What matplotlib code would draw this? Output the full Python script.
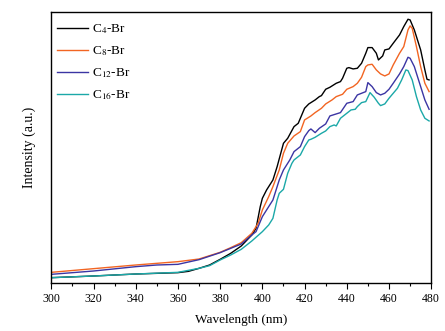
import matplotlib.pyplot as plt
from matplotlib.ticker import MultipleLocator

plt.rcParams['font.family'] = 'Liberation Serif'
plt.rcParams['mathtext.fontset'] = 'stix'

# C4-Br
wl_c4 = [300, 320, 340, 360, 365, 370, 375, 380, 385, 390, 395, 397, 399, 400, 402, 405, 407,
         410, 412, 415, 417, 420, 422, 425, 427, 428, 430, 432, 435, 437, 438, 440, 441, 443,
         445, 447, 449, 450, 452, 454, 455, 457, 458, 460, 462, 465, 467, 469, 470, 472, 475,
         477, 478, 479]
int_c4 = [16, 21, 27, 31, 35, 44, 54, 71, 89, 111, 144, 164, 229, 254, 279, 309, 349,
          419, 434, 469, 479, 524, 537, 549, 559, 562, 581, 587, 599, 604, 614, 644, 646, 642,
          644, 659, 689, 706, 706, 689, 669, 681, 699, 702, 719, 744, 769, 791, 789, 759, 699,
          639, 611, 609]

# C8-Br
wl_c8 = [300, 320, 340, 350, 360, 370, 380, 385, 390, 395, 398, 400, 403, 405, 408, 410, 412,
         415, 418, 420, 423, 425, 428, 430, 433, 435, 438, 440, 443, 445, 447, 449, 450, 452,
         454, 456, 458, 460, 462, 465, 467, 469, 470, 471, 473, 475, 477, 479]
int_c8 = [32, 43, 54, 59, 64, 72, 92, 106, 121, 149, 179, 219, 259, 289, 339, 389, 419,
          441, 454, 489, 501, 511, 524, 537, 549, 559, 566, 581, 589, 599, 617, 649, 654, 656,
          639, 627, 621, 627, 654, 689, 709, 759, 771, 764, 709, 649, 599, 574]

# C12-Br
wl_c12 = [300, 320, 340, 350, 360, 370, 380, 385, 390, 395, 397, 400, 403, 405, 408, 410, 413,
          415, 418, 420, 422, 423, 425, 427, 430, 432, 435, 437, 440, 443, 445, 447, 449, 450,
          452, 454, 456, 458, 460, 462, 465, 467, 469, 470, 472, 475, 477, 479]
int_c12 = [26, 36, 49, 54, 56, 70, 91, 104, 117, 144, 154, 199, 229, 249, 309, 339, 369,
           394, 409, 439, 457, 462, 451, 464, 477, 501, 507, 511, 539, 544, 564, 569, 574, 601,
           589, 571, 564, 569, 581, 599, 627, 649, 677, 674, 649, 589, 549, 521]

# C16-Br
wl_c16 = [300, 320, 340, 360, 370, 375, 380, 385, 390, 395, 400, 403, 405, 407, 408, 410, 412,
          414, 415, 418, 420, 422, 423, 425, 428, 430, 432, 434, 435, 437, 439, 440, 442, 444,
          445, 447, 449, 451, 453, 455, 456, 458, 460, 462, 464, 466, 468, 469, 471, 473, 475,
          477, 479]
int_c16 = [16, 21, 27, 32, 44, 52, 69, 84, 101, 126, 154, 174, 194, 249, 269, 281, 329,
           359, 369, 384, 409, 429, 431, 437, 449, 456, 469, 474, 471, 494, 504, 509, 519, 521,
           529, 541, 544, 571, 557, 539, 532, 537, 554, 569, 584, 609, 639, 637, 609, 559, 519,
           494, 486]

fig = plt.figure(figsize=(4.45, 3.31), dpi=100)
ax = fig.add_axes([0.1153, 0.145, 0.8537, 0.818])

ax.plot(wl_c4, int_c4, color='black', lw=1.0, label=r'C$_{4}$-Br')
ax.plot(wl_c8, int_c8, color='#f26522', lw=1.0, label=r'C$_{8}$-Br')
ax.plot(wl_c12, int_c12, color='#3b35a3', lw=1.0, label=r'C$_{12}$-Br')
ax.plot(wl_c16, int_c16, color='#1ba8a8', lw=1.0, label=r'C$_{16}$-Br')

ax.set_xlim(300, 480)
ax.set_ylim(0, 812)
ax.xaxis.set_major_locator(MultipleLocator(20))
ax.xaxis.set_minor_locator(MultipleLocator(10))
ax.tick_params(axis='x', which='major', direction='out', length=4, width=0.8, labelsize=8.5)
ax.tick_params(axis='x', which='minor', direction='out', length=2, width=0.8)
ax.set_yticks([])
for s in ax.spines.values():
    s.set_linewidth(1.0)

ax.set_xlabel('Wavelength (nm)', fontsize=9.5, labelpad=6)
ax.set_ylabel('Intensity (a.u.)', fontsize=10, labelpad=11)

ax.legend(loc='upper left', frameon=False, fontsize=9.5, handlelength=2.3,
          handletextpad=0.3, labelspacing=0.62, borderaxespad=0.05,
          bbox_to_anchor=(0.0, 0.985))

fig.savefig('out.png', dpi=100)
